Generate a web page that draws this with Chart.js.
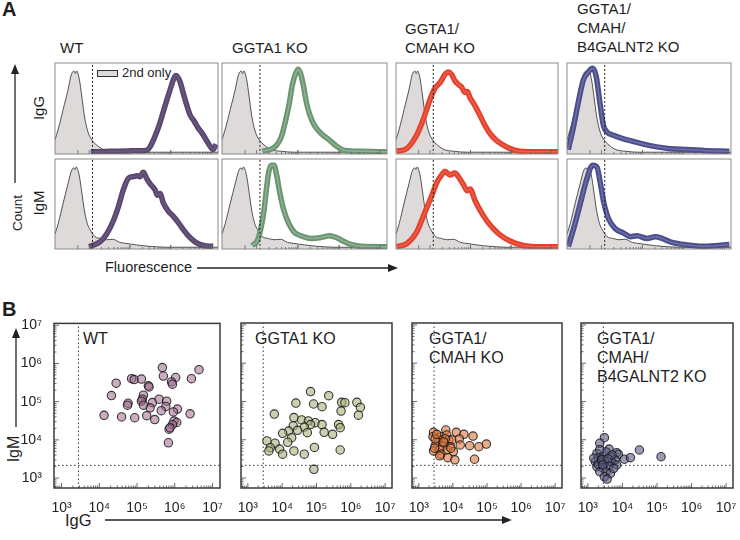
<!DOCTYPE html>
<html lang="en">
<head>
<meta charset="UTF-8">
<title>Anti-pig IgG / IgM binding</title>
<script src="https://cdn.jsdelivr.net/npm/chart.js"></script>
<style>
  html, body { margin: 0; padding: 0; background: #fff; }
  body {
    width: 740px; height: 540px; position: relative; overflow: hidden;
    font-family: "Liberation Sans", Arial, sans-serif; color: #1e1e1e;
  }
  .lbl { position: absolute; white-space: nowrap; line-height: 19px; }
  .rot { position: absolute; white-space: nowrap; transform: translate(-50%, -50%) rotate(-90deg); }
  .panel { position: absolute; font-weight: bold; font-size: 20px; line-height: 20px; }
  canvas { position: absolute; }
  svg { position: absolute; left: 0; top: 0; }
</style>
</head>
<body>
  <div class="panel" style="left:2px; top:-1px;">A</div>
  <div class="panel" style="left:2px; top:299px;">B</div>

  <!-- panel A titles -->
  <div class="lbl" style="left:60px; top:38px; font-size:15px;">WT</div>
  <div class="lbl" style="left:232px; top:38px; font-size:15px;">GGTA1 KO</div>
  <div class="lbl" style="left:405px; top:19px; font-size:15px;">GGTA1/<br>CMAH KO</div>
  <div class="lbl" style="left:577px; top:-1px; font-size:15px;">GGTA1/<br>CMAH/<br>B4GALNT2 KO</div>

  <div class="rot" style="left:17px; top:213px; font-size:13.5px;">Count</div>
  <div class="rot" style="left:38px; top:108px; font-size:15px;">IgG</div>
  <div class="rot" style="left:38px; top:203px; font-size:15px;">IgM</div>
  <div class="lbl" style="left:105px; top:258px; font-size:14.5px;">Fluorescence</div>

  <!-- "2nd only" key -->
  <div style="position:absolute; left:97px; top:70px; width:19px; height:5px; background:#dedad9; border:1px solid #333;"></div>
  <div class="lbl" style="left:122px; top:63px; font-size:13px;">2nd only</div>

  <!-- panel B titles -->
  <div class="lbl" style="left:83px; top:329px; font-size:16px;">WT</div>
  <div class="lbl" style="left:255px; top:329px; font-size:16px;">GGTA1 KO</div>
  <div class="lbl" style="left:429px; top:329px; font-size:16px;">GGTA1/<br>CMAH KO</div>
  <div class="lbl" style="left:597px; top:329px; font-size:16px;">GGTA1/<br>CMAH/<br>B4GALNT2 KO</div>

  <div class="rot" style="left:14px; top:449px; font-size:16px;">IgM</div>
  <div class="lbl" style="left:65px; top:511px; font-size:16.5px;">IgG</div>

  <svg width="740" height="540">
    <g stroke="#222" stroke-width="1.3" fill="#222">
      <line x1="15" y1="183" x2="15" y2="72"/>
      <polygon points="15,64 11,74 19,74" stroke="none"/>
      <line x1="197" y1="268" x2="390" y2="268"/>
      <polygon points="398,268 388,264 388,272" stroke="none"/>
      <line x1="16" y1="427" x2="16" y2="336"/>
      <polygon points="16,328 12,338 20,338" stroke="none"/>
      <line x1="105" y1="520" x2="504" y2="520"/>
      <polygon points="512,520 502,516 502,524" stroke="none"/>
    </g>
  </svg>

<script>
// ---------- panel A: histograms (x = display channel 0-100, y = % of max) ----------
const histGate = 23;

const grayTop = [[0,14],[2,26],[5,48],[8,70],[10,87],[11.7,91],[12.5,88],[13.3,91],[15,81],[16.4,63],
  [18,41],[20,24],[22.5,14],[25.6,8],[29.7,3],[36,1],[44,0],[100,0]];
const grayBottom = [[0,15],[2,27],[5,50],[8,72],[10,86],[11.5,90],[12.3,88],[13,91],[14.8,82],[16.3,64],
  [18,42],[19.8,27],[21.5,20],[24.5,12],[28,10],[31.6,8.5],[35.5,9],[39.8,5.5],[45,4],[50,2.6],[58,1],[69,0],[100,0]];

const wtIgGHist = [[22,0.5],[35,1],[45,1.5],[56.2,2],[58.3,6],[61.4,18],[64.4,33],[67.5,52],[70.6,70],[73,83],
  [74.2,86],[75.7,83],[77.1,77],[78.7,66],[80.8,53],[82.8,42],[85.3,35],[87.9,27],[90,22],[93,13],[95,7],[97.1,3],[98.8,9]];
const wtIgMHist = [[21,0.5],[27.6,6],[31.7,15],[35.8,30],[38.9,46],[41.9,65],[45,78],[48,80],[50.5,81],[52.1,80],
  [54.2,85],[56.2,78],[58.3,72],[61.4,65],[62.8,59],[64.4,61],[66.5,50],[69.5,41],[72.6,35],[75.7,28],[78.7,20],
  [82.8,11],[86.9,5],[91,2],[97,1]];
const ggtaIgGHist = [[24.4,1],[31.5,5],[34.6,12],[36.6,21],[38.6,36],[40.7,54],[42.7,76],[44.8,89],[46.2,93],[47.8,87],
  [49.5,73],[50.9,58],[53,43],[56,30],[60.1,21],[64.2,15],[69.3,7],[74.4,2],[84.7,1],[100,0.5]];
const ggtaIgMHist = [[18.2,2],[21.3,7],[23.3,19],[25.4,41],[27,67],[28.4,86],[29.9,93],[31.5,93],[33.1,82],[35.2,60],
  [37.6,41],[40.7,26],[43.8,17],[47.8,13],[54,10],[60.1,11],[65.2,13],[69.3,11],[73.4,7],[78.5,3],[84.7,1],[100,0.5]];
const cmahIgGHist = [[0.4,1],[6.6,4],[12.7,19],[16.9,37],[21,59],[24.1,72],[27.2,78],[30.2,87],[32.3,90],[34.4,87],
  [36.4,80],[38.5,76],[40.5,73],[42.6,67],[44,68],[45.7,61],[48.8,52],[51.9,41],[54.9,30],[58,21],[62.1,13],
  [66.3,8],[70.4,4],[76.5,1],[87,0.5],[100,0.5]];
const cmahIgMHist = [[0.4,0.5],[6.6,4],[12.7,17],[17.9,40],[22,58],[25.1,73],[28.2,82],[30.2,86],[33.3,82],[36.4,84],
  [38.5,80],[41.6,71],[44,64],[45.7,66],[48.8,53],[51.9,42],[56,30],[60.1,21],[64.2,14],[70.4,7],[78.6,2],[91,0.5],[100,0.5]];
const b4IgGHist = [[0.8,3],[3.9,28],[7,57],[10,81],[13.1,90],[15.7,94],[17.8,85],[19.8,59],[22.2,30],[24.2,23],
  [28.3,19],[34.4,15],[40.5,12],[46.6,9],[54.7,6],[62.8,4],[73,3],[83.1,2],[99,1]];
const b4IgMHist = [[0.8,1],[3.9,20],[7.9,48],[12,77],[15.7,93],[18.2,91],[20.3,73],[22.4,51],[25.4,32],[29.5,21],
  [34.6,16],[38.6,12],[42.7,13],[48.8,10],[53.9,12],[57.9,10],[63,6],[71.1,3],[83.3,1],[99,3]];

// ---------- panel B: per-animal titres ----------
const wtIgG = [4.7e5,4.4e6,5.0e5,1.06e6,2.77e6,8.2e5,8.7e5,2.8e4,7.2e4,8.4e4,1.31e5,2.0e5,2.09e5,2.1e4,1.48e5,1.39e5,
  5.8e4,5.6e4,2.56e5,3.85e5,6.1e5,1.31e5,2.22e5,5.8e5,1.18e6,9.2e5,4.4e5,1.34e4,3.9e4,8.7e4,1.81e5,2.95e5,2.55e6,
  9.6e5,1.13e6,8.7e5,7.1e5,7.5e5,6.8e5,1.48e5];
const wtIgM = [7.8e5,6.9e5,4.7e5,4.3e5,4.0e5,3.3e5,2.87e5,3.05e5,4.0e5,3.8e5,3.9e5,2.6e5,2.44e5,1.45e5,1.48e5,1.16e5,
  9.1e4,8.1e4,9.5e4,1.16e5,1.03e5,1.03e5,6.9e4,7.5e4,6.4e4,5.4e4,5.8e4,4.4e4,4.0e4,3.8e4,4.3e4,3.4e4,4.8e4,
  3.1e4,2.85e4,2.5e4,1.91e4,2.07e4,8.4e3,8.1e4];

const ggtaIgG = [6.7e4,2.27e5,2.5e4,8.2e4,1.45e5,5.4e5,6.7e5,1.5e6,1.9e6,1.67e6,5.2e5,5.9e3,2.2e4,3.7e4,5.8e4,9.2e4,
  1.45e5,6.7e4,2.1e4,4.4e4,4.4e5,4.9e5,1.54e4,2.8e4,5.4e4,1.67e5,2.95e5,1.03e4,1.89e4,1.45e4,3.6e3,6.2e3,4.5e3,
  4.1e3,8.4e3,1.03e4,2.2e4,4.4e4,8.7e4,4.9e5,8.4e4];
const ggtaIgM = [1.81e5,1.42e5,9.1e4,8.6e4,7.3e4,9.5e4,9.3e4,9.5e4,7.0e4,4.4e4,5.6e4,4.7e4,3.8e4,3.3e4,3.1e4,2.8e4,
  2.5e4,2.5e4,2.3e4,2.15e4,2.5e4,2.07e4,1.69e4,1.76e4,1.53e4,1.56e4,1.39e4,1.47e4,1.13e4,8.6e3,9.3e3,8.1e3,6.2e3,
  5.1e3,5.7e3,4.2e3,5.1e3,4.2e3,6.3e3,5.4e3,1.69e3];

const cmahIgG = [2.7e3,6.2e3,1.26e4,2.1e4,3.9e4,2.6e3,4.5e3,6.6e3,7.6e3,4.1e3,3.35e3,5.6e3,9.3e3,1.54e4,3.0e3,5.0e3,
  8.4e3,1.64e4,3.1e4,5.8e4,9.6e4,2.7e3,4.1e3,6.8e3,1.03e4,4.5e3,4.1e3,7.1e3,1.14e4,4.3e4,8.7e3,3.0e3,6.0e3,3.35e3,
  5.3e3,2.9e3];
const cmahIgM = [1.56e4,1.8e4,1.56e4,1.39e4,1.25e4,1.2e4,1.2e4,1.33e4,9.9e3,9.9e3,8.6e3,8.1e3,9.9e3,1.05e4,7.0e3,6.9e3,
  6.6e3,7.3e3,7.0e3,6.6e3,7.7e3,5.1e3,5.4e3,5.4e3,4.9e3,4.2e3,3.8e3,3.4e3,3.0e3,3.1e3,6.0e3,1.05e4,1.05e4,1.39e4,
  8.8e3,6.0e3];

const b4IgG = [3.0e3,2.2e3,4.1e3,6.8e3,7.6e3,3.1e4,1.31e5,1.14e4,1.7e4,1.82e3,2.0e3,2.7e3,4.5e3,6.2e3,1.64e3,2.5e3,
  3.7e3,5.0e3,1.82e3,2.7e3,4.1e3,6.8e3,2.2e3,3.35e3,4.5e3,3.0e3,3.6e3,2.0e3,5.6e3,1.48e3,2.5e3,3.35e3,2.2e3,5.0e3,
  2.7e3,3.8e3];
const b4IgM = [1.13e4,8.1e3,5.7e3,4.6e3,4.2e3,5.4e3,3.6e3,3.1e3,3.4e3,4.4e3,3.4e3,3.6e3,3.6e3,2.96e3,2.67e3,2.57e3,
  2.67e3,2.57e3,1.98e3,1.86e3,2.1e3,2.19e3,1.46e3,1.46e3,1.32e3,1.08e3,9.4e2,2.28e3,1.79e3,3.3e3,3.0e3,4.8e3,5.5e3,
  4.0e3,2.2e3,3.2e3];

const gateIgG = 2800;   // background cut-offs
const gateIgM = 2150;
const decadeTicks = [1e3, 1e4, 1e5, 1e6, 1e7];
const xMin = Math.pow(10, 2.8), xMax = Math.pow(10, 7.2);
const yMin = Math.pow(10, 2.74), yMax = Math.pow(10, 7.05);

// ---------- layout & styles ----------
const FONT = '"Liberation Sans", Arial, sans-serif';
const histLeft = [55, 222, 396, 567], histWidth = [163, 165, 162, 164];
const histTop = [63, 159], histHeight = [91, 90];
const scLeft = [54, 227, 398, 567], scWidth = [166, 165, 164, 166];
const scTop = 323, scHeight = 165;

const lineOuter = ['#5a466e', '#6a9571', '#e2412d', '#4b4d8c'];
const lineInner = ['#6c5982', '#8fb293', '#ee5e48', '#6f71aa'];
const dotFill = ['rgba(160,104,142,0.55)', 'rgba(172,177,123,0.6)', 'rgba(220,118,62,0.6)', 'rgba(90,88,130,0.6)'];

const histCurves = [
  [wtIgGHist, ggtaIgGHist, cmahIgGHist, b4IgGHist],
  [wtIgMHist, ggtaIgMHist, cmahIgMHist, b4IgMHist]
];
const scatterSets = [[wtIgG, wtIgM], [ggtaIgG, ggtaIgM], [cmahIgG, cmahIgM], [b4IgG, b4IgM]];

const sup = { 3: '\u00b3', 4: '\u2074', 5: '\u2075', 6: '\u2076', 7: '\u2077' };

// frame + inward tick marks
const framePlugin = {
  id: 'frame',
  afterDatasetsDraw(chart, args, opts) {
    const { ctx, chartArea: a } = chart;
    ctx.save();
    ctx.strokeStyle = opts.color;
    ctx.lineWidth = opts.width;
    ctx.strokeRect(a.left, a.top, a.right - a.left, a.bottom - a.top);
    ctx.lineWidth = 0.8;
    ctx.strokeStyle = opts.tickColor;
    ctx.beginPath();
    (opts.xTicks || []).forEach(t => {
      const px = chart.scales.x.getPixelForValue(t.v);
      ctx.moveTo(px, a.bottom);
      ctx.lineTo(px, a.bottom - t.len);
    });
    (opts.yTicks || []).forEach(t => {
      const py = chart.scales.y.getPixelForValue(t.v);
      ctx.moveTo(a.left, py);
      ctx.lineTo(a.left + t.len, py);
    });
    ctx.stroke();
    ctx.restore();
  }
};
Chart.register(framePlugin);

function makeCanvas(left, top, w, h) {
  const c = document.createElement('canvas');
  c.width = w; c.height = h;
  c.style.left = left + 'px'; c.style.top = top + 'px';
  c.style.width = w + 'px'; c.style.height = h + 'px';
  document.body.appendChild(c);
  return c;
}

const toXY = arr => arr.map(p => ({ x: p[0], y: p[1] }));

// histogram axis marks (decades of the display scale)
const histTicks = [];
[21, 46, 71].forEach(d => {
  for (let k = 1; k <= 10; k++) histTicks.push({ v: d + 25 * Math.log10(k), len: (k === 1 || k === 10) ? 4 : 2 });
});
histTicks.push({ v: 14, len: 4 });

function logMinor(lo, hi) {
  const out = [];
  for (let n = 2; n <= 7; n++) {
    for (let k = 1; k <= 9; k++) {
      const v = k * Math.pow(10, n);
      if (v > lo && v < hi) out.push({ v, len: k === 1 ? 5 : 2.5 });
    }
  }
  return out;
}

function histChart(col, row) {
  const pad = 4;
  const left = histLeft[col], top = histTop[row], w = histWidth[col], h = histHeight[row];
  const cv = makeCanvas(left - pad, top - pad, w + 2 * pad, h + 2 * pad);
  const curve = toXY(histCurves[row][col]);
  const gray = toXY(row === 0 ? grayTop : grayBottom);
  new Chart(cv, {
    type: 'line',
    data: {
      datasets: [
        { data: [{ x: histGate, y: -3 }, { x: histGate, y: 101 }], borderColor: '#222', borderWidth: 1,
          borderDash: [2, 2], pointRadius: 0, order: 0 },
        { data: curve, borderColor: lineInner[col], borderWidth: 1.5, pointRadius: 0,
          tension: 0.35, cubicInterpolationMode: 'monotone', order: 1 },
        { data: curve, borderColor: lineOuter[col], borderWidth: 5.5, pointRadius: 0,
          tension: 0.35, cubicInterpolationMode: 'monotone', order: 2 },
        { data: gray, borderColor: '#2b2b2b', borderWidth: 0.8, backgroundColor: '#dedad9', fill: 'start',
          pointRadius: 0, tension: 0.35, cubicInterpolationMode: 'monotone', order: 3 }
      ]
    },
    options: {
      responsive: false, animation: false, devicePixelRatio: 1,
      layout: { padding: pad },
      plugins: {
        legend: { display: false }, tooltip: { enabled: false },
        frame: { color: '#8a8a8a', width: 1, tickColor: '#666', xTicks: histTicks }
      },
      scales: {
        x: { type: 'linear', min: 0, max: 100, display: false },
        y: { min: -2, max: 100, display: false }
      }
    }
  });
}

function scatterChart(i) {
  const padL = i === 0 ? 42 : 14, padT = 12, padR = 18, axisH = 28;
  const left = scLeft[i], w = scWidth[i];
  const cv = makeCanvas(left - padL, scTop - padT, padL + w + padR, padT + scHeight + axisH);
  const xs = scatterSets[i][0], ys = scatterSets[i][1];
  const pts = xs.map((x, k) => ({ x, y: ys[k] }));
  new Chart(cv, {
    type: 'scatter',
    data: {
      datasets: [
        { data: pts, backgroundColor: dotFill[i], borderColor: 'rgba(25,25,25,0.85)', borderWidth: 1.1,
          pointRadius: 4.2, order: 0 },
        { type: 'line', data: [{ x: gateIgG, y: yMin }, { x: gateIgG, y: yMax }], borderColor: '#333',
          borderWidth: 1, borderDash: [1.5, 2.5], pointRadius: 0, order: 1 },
        { type: 'line', data: [{ x: xMin, y: gateIgM }, { x: xMax, y: gateIgM }], borderColor: '#333',
          borderWidth: 1, borderDash: [1.5, 2.5], pointRadius: 0, order: 1 }
      ]
    },
    options: {
      responsive: false, animation: false, devicePixelRatio: 1,
      layout: { padding: { left: i === 0 ? 0 : padL, top: padT, right: padR, bottom: 0 } },
      plugins: {
        legend: { display: false }, tooltip: { enabled: false },
        frame: { color: '#3a3a3a', width: 1.5, tickColor: '#444',
                 xTicks: logMinor(xMin, xMax), yTicks: logMinor(yMin, yMax) }
      },
      scales: {
        x: {
          type: 'logarithmic', min: xMin, max: xMax,
          grid: { display: false }, border: { display: false },
          ticks: { font: { family: FONT, size: 14 }, color: '#222', padding: 4, maxRotation: 0, autoSkip: false,
                   callback: v => '10' + sup[Math.round(Math.log10(v))] },
          afterBuildTicks: s => { s.ticks = decadeTicks.map(v => ({ value: v })); },
          afterFit: s => { s.height = axisH; }
        },
        y: {
          type: 'logarithmic', min: yMin, max: yMax, display: i === 0,
          grid: { display: false }, border: { display: false },
          ticks: { font: { family: FONT, size: 14 }, color: '#222', padding: 4, autoSkip: false,
                   callback: v => '10' + sup[Math.round(Math.log10(v))] },
          afterBuildTicks: s => { s.ticks = decadeTicks.map(v => ({ value: v })); },
          afterFit: s => { s.width = padL; }
        }
      }
    }
  });
}

for (let r = 0; r < 2; r++) for (let c = 0; c < 4; c++) histChart(c, r);
for (let i = 0; i < 4; i++) scatterChart(i);
</script>
</body>
</html>
